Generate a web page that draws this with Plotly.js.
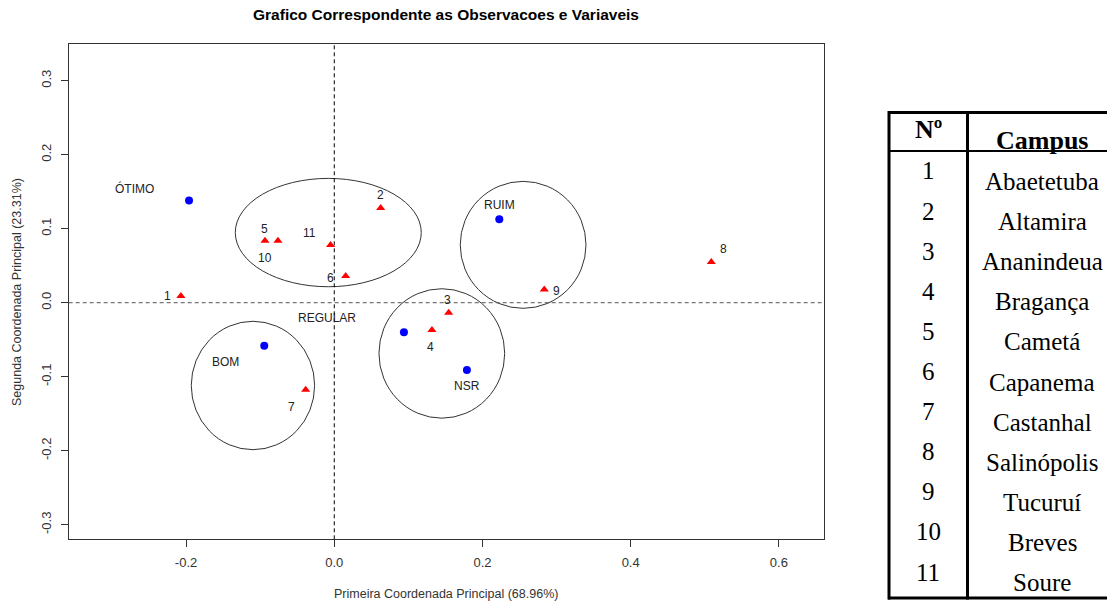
<!DOCTYPE html>
<html>
<head>
<meta charset="utf-8">
<script src="https://cdn.plot.ly/plotly-3.0.1.min.js"></script>
<style>html,body{margin:0;padding:0;background:#fff;}</style>
</head>
<body>
<div id="chart" style="width:1107px;height:601px;"></div>
<script>
// ---- data ----
const obsLabels = ['1','2','3','4','5','6','7','8','9','10','11'];
const obsX = [-0.207, 0.0626, 0.1544, 0.1318, -0.0935, 0.0154, -0.0386, 0.5088, 0.2834, -0.076, -0.005];
const obsY = [0.009, 0.128, -0.0135, -0.0369, 0.0838, 0.036, -0.1176, 0.055, 0.018, 0.0838, 0.078];

const varNames = ['ÓTIMO','BOM','REGULAR','NSR','RUIM'];
const varX = [-0.196, -0.0945, 0.094, 0.179, 0.2227];
const varY = [0.138, -0.058, -0.040, -0.091, 0.1127];

// groupings (ellipses) in data coordinates: [x0, x1, y0, y1]
const groupX0 = [-0.1336, 0.170, 0.0603, -0.193];
const groupX1 = [0.1174, 0.3397, 0.230, -0.0265];
const groupY0 = [0.0216, -0.0076, -0.156, -0.1986];
const groupY1 = [0.168, 0.164, 0.0189, -0.0251];

const xTicks = [-0.2, 0.0, 0.2, 0.4, 0.6];
const yTicks = [-0.3, -0.2, -0.1, 0.0, 0.1, 0.2, 0.3];

const tableHeader = ['Nº', 'Campus'];
const tableNums = ['1','2','3','4','5','6','7','8','9','10','11'];
const tableCampus = ['Abaetetuba','Altamira','Ananindeua','Bragança','Cametá','Capanema','Castanhal','Salinópolis','Tucuruí','Breves','Soure'];

// ---- layout helpers (pixel -> paper) ----
const W = 1107, H = 601;
const px = v => v / W;
const py = v => 1 - v / H;

// label offsets (pixels) for point labels
const obsOff = [[-13,0],[0,13],[-1,13],[-1,-17],[0,12],[-15,-2],[-14,-17],[12,13],[12,-2],[-13,-17],[-21,12]];
const varOff = [[-55,12],[-39,-16],[-77,14],[0,-16],[0,14]];

const sans = 'Liberation Sans, Arial, sans-serif';
const serif = 'Liberation Serif, Times New Roman, serif';

const traces = [
  {
    type: 'scatter', mode: 'markers', x: varX, y: varY, text: varNames,
    marker: {symbol: 'circle', size: 8, color: '#0000ff'}, hoverinfo: 'text', showlegend: false
  },
  {
    type: 'scatter', mode: 'markers', x: obsX, y: obsY, text: obsLabels,
    marker: {symbol: 'triangle-up', size: 8, color: '#ff0000'}, hoverinfo: 'text', showlegend: false
  }
];

const annotations = [];
obsLabels.forEach((t, i) => annotations.push({
  x: obsX[i], y: obsY[i], xref: 'x', yref: 'y', text: t, showarrow: false,
  xanchor: 'center', yanchor: 'middle',
  xshift: obsOff[i][0], yshift: obsOff[i][1],
  font: {family: sans, size: 12, color: '#222'}
}));
varNames.forEach((t, i) => annotations.push({
  x: varX[i], y: varY[i], xref: 'x', yref: 'y', text: t, showarrow: false,
  xanchor: 'center', yanchor: 'middle',
  xshift: varOff[i][0], yshift: varOff[i][1],
  font: {family: sans, size: 12, color: '#222'}
}));

// axis titles
annotations.push({
  xref: 'paper', yref: 'paper', x: px(446), y: py(594), xanchor: 'center', yanchor: 'middle',
  text: 'Primeira Coordenada Principal (68.96%)',
  showarrow: false, font: {family: sans, size: 12.5, color: '#333'}
});
annotations.push({
  xref: 'paper', yref: 'paper', x: px(17), y: py(292), xanchor: 'center', yanchor: 'middle',
  text: 'Segunda Coordenada Principal (23.31%)',
  showarrow: false, textangle: -90, font: {family: sans, size: 12.5, color: '#333'}
});

// table text
const cell = (x, y, t, size) => ({xref:'paper', yref:'paper', x: px(x), y: py(y), xanchor:'center', yanchor:'middle',
  text: t, showarrow:false, font:{family: serif, size: size, color:'#000'}});
annotations.push(cell(928, 129, '<b>' + tableHeader[0] + '</b>', 26));
annotations.push(cell(1042, 140, '<b>' + tableHeader[1] + '</b>', 26));
tableNums.forEach((t, i) => annotations.push(cell(928, 171 + 40.1 * i, t, 25)));
tableCampus.forEach((t, i) => annotations.push(cell(1042, 181.5 + 40.1 * i, t, 25)));

const shapes = [];
for (let i = 0; i < groupX0.length; i++) {
  shapes.push({type: 'circle', xref: 'x', yref: 'y', x0: groupX0[i], x1: groupX1[i], y0: groupY0[i], y1: groupY1[i],
    line: {color: '#333', width: 1}});
}
shapes.push({type: 'line', xref: 'x', yref: 'y domain', x0: 0, x1: 0, y0: 0, y1: 1,
  line: {color: '#000', width: 1, dash: '4px,3px'}});
shapes.push({type: 'line', xref: 'x domain', yref: 'y', x0: 0, x1: 1, y0: 0, y1: 0,
  line: {color: '#555', width: 1, dash: '4px,3px'}});

// table lines
const tl = {color: '#000', width: 3};
shapes.push({type:'line', xref:'paper', yref:'paper', x0: px(888), x1: px(1107), y0: py(112.5), y1: py(112.5), line: tl});
shapes.push({type:'line', xref:'paper', yref:'paper', x0: px(888), x1: px(1107), y0: py(598), y1: py(598), line: tl});
shapes.push({type:'line', xref:'paper', yref:'paper', x0: px(889), x1: px(889), y0: py(111), y1: py(599.5), line: tl});
shapes.push({type:'line', xref:'paper', yref:'paper', x0: px(967.5), x1: px(967.5), y0: py(111), y1: py(599.5), line: tl});
shapes.push({type:'line', xref:'paper', yref:'paper', x0: px(888), x1: px(1107), y0: py(151), y1: py(151), line: {color:'#000', width: 2}});

const layout = {
  width: W, height: H,
  margin: {l: 0, r: 0, t: 0, b: 0},
  paper_bgcolor: '#fff', plot_bgcolor: '#fff',
  showlegend: false,
  title: {
    text: '<b>Grafico Correspondente as Observacoes e Variaveis</b>',
    x: px(446), xanchor: 'center', xref: 'paper',
    y: 1 - 15 / H, yanchor: 'middle', yref: 'container',
    font: {family: sans, size: 15.5, color: '#000'}
  },
  xaxis: {
    domain: [px(68.7), px(823.7)],
    range: [-0.3584, 0.6605],
    tickvals: xTicks, ticktext: xTicks.map(v => v.toFixed(1)),
    showgrid: false, zeroline: false,
    showline: true, mirror: true, linecolor: '#333', linewidth: 1,
    ticks: 'outside', ticklen: 7, tickcolor: '#333',
    ticklabelstandoff: 4,
    tickfont: {family: sans, size: 13, color: '#333'}
  },
  yaxis: {
    domain: [py(539.3), py(44)],
    range: [-0.3197, 0.3496],
    tickvals: yTicks, ticktext: yTicks.map(v => v.toFixed(1)),
    tickangle: -90,
    showgrid: false, zeroline: false,
    showline: true, mirror: true, linecolor: '#333', linewidth: 1,
    ticks: 'outside', ticklen: 7, tickcolor: '#333',
    ticklabelstandoff: 5,
    tickfont: {family: sans, size: 13, color: '#333'}
  },
  annotations: annotations,
  shapes: shapes
};

Plotly.newPlot('chart', traces, layout, {displayModeBar: false, staticPlot: true});
</script>
</body>
</html>
